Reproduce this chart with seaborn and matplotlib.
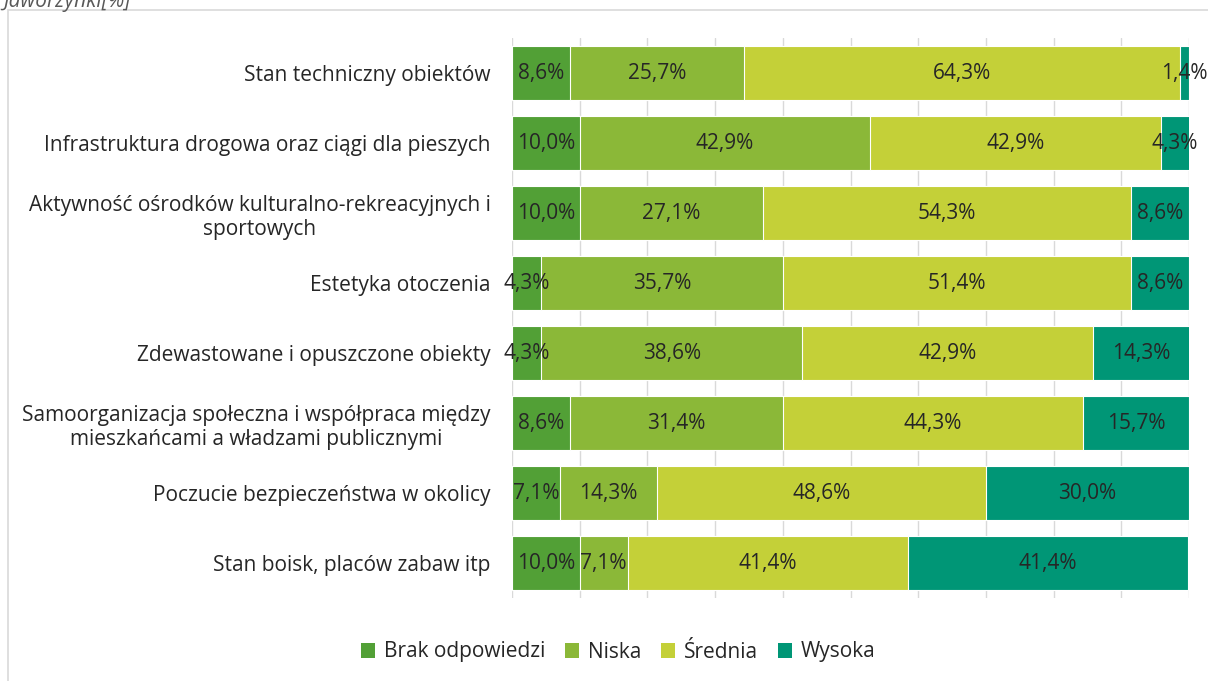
import numpy as np
import pandas as pd
import matplotlib
matplotlib.use("Agg")
import matplotlib.pyplot as plt
import seaborn as sns
from matplotlib.patches import Rectangle, Patch

categories = [
    "Stan techniczny obiektów",
    "Infrastruktura drogowa oraz ciągi dla pieszych",
    "Aktywność ośrodków kulturalno-rekreacyjnych i\nsportowych",
    "Estetyka otoczenia",
    "Zdewastowane i opuszczone obiekty",
    "Samoorganizacja społeczna i współpraca między\nmieszkańcami a władzami publicznymi",
    "Poczucie bezpieczeństwa w okolicy",
    "Stan boisk, placów zabaw itp",
]
series_names = ["Brak odpowiedzi", "Niska", "Średnia", "Wysoka"]
brak = [8.6, 10.0, 10.0, 4.3, 4.3, 8.6, 7.1, 10.0]
niska = [25.7, 42.9, 27.1, 35.7, 38.6, 31.4, 14.3, 7.1]
srednia = [64.3, 42.9, 54.3, 51.4, 42.9, 44.3, 48.6, 41.4]
wysoka = [1.4, 4.3, 8.6, 8.6, 14.3, 15.7, 30.0, 41.4]
colors = ["#52A036", "#8BB838", "#C4D038", "#009676"]

sns.set_style("white")
plt.rcParams["font.family"] = ["Open Sans", "DejaVu Sans"]
text_color = "#262626"
fs = 15

fig = plt.figure(figsize=(12.08, 6.81), dpi=100)
ax = fig.add_axes([512 / 1208, 1 - 598 / 681, (1189 - 512) / 1208, (598 - 38) / 681])

vals = np.array([brak, niska, srednia, wysoka])
cum = np.cumsum(vals, axis=0)

# draw from the full stack downwards so each earlier segment overlays the later one
for i in range(3, -1, -1):
    df = pd.DataFrame({"cat": categories, "val": cum[i]})
    sns.barplot(data=df, x="val", y="cat", order=categories, color=colors[i],
                saturation=1, width=0.77, edgecolor="white", linewidth=0.8,
                ax=ax, zorder=3)

# segment labels
for i in range(4):
    starts = cum[i] - vals[i]
    for j, cat in enumerate(categories):
        center = starts[j] + vals[i][j] / 2
        ax.text(center, j, f"{vals[i][j]:.1f}%".replace(".", ","),
                ha="center", va="center", fontsize=fs, color=text_color, zorder=5)

ax.set_xlim(0, 100)
ax.set_ylim(7.5, -0.5)
ax.set_xticks(np.arange(0, 101, 10))
ax.set_xticklabels([])
ax.tick_params(axis="x", length=0)
ax.tick_params(axis="y", length=0, pad=15.5, labelsize=fs, labelcolor=text_color)
for lbl in ax.get_yticklabels():
    lbl.set_multialignment("center")
ax.grid(axis="x", color="#D9D9D9", linewidth=1, zorder=0)
ax.set_axisbelow(True)
for s in ax.spines.values():
    s.set_visible(False)
ax.set_xlabel("")
ax.set_ylabel("")

# outer chart border
fig.patches.append(Rectangle((8 / 1208, -0.05), 1.1, 1 - 10 / 681 + 0.05,
                             transform=fig.transFigure, fill=False,
                             edgecolor="#D9D9D9", linewidth=1.2, zorder=0))
fig.text(3 / 1208, 1 - 1 / 681, "Jaworzynki[%]", ha="left", va="center",
         fontsize=fs, style="italic", color="#595959")

handles = [Patch(facecolor=c, edgecolor="none") for c in colors]
fig.legend(handles, series_names, loc="center", bbox_to_anchor=(618 / 1208, 1 - 652 / 681),
           ncol=4, frameon=False, fontsize=fs, handlelength=0.7, handleheight=0.7,
           handletextpad=0.4, columnspacing=0.95, labelcolor=text_color)

fig.savefig("out.png", dpi=100)
